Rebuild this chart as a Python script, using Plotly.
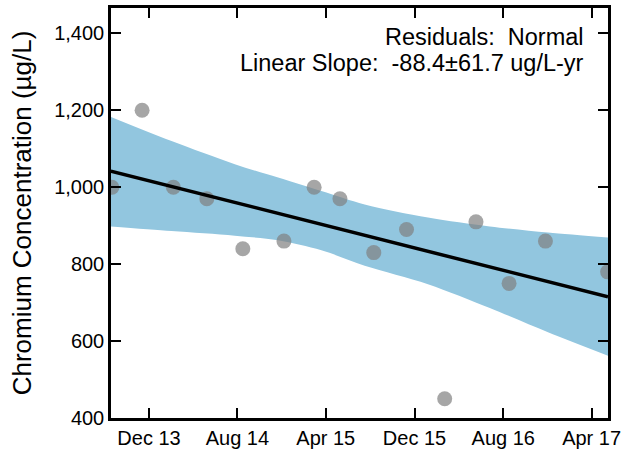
import plotly.graph_objects as go

# Observations
obs_dates = ["2013-08-21", "2013-11-12", "2014-02-06", "2014-05-09", "2014-08-16",
             "2014-12-07", "2015-02-28", "2015-05-10", "2015-08-11", "2015-11-09",
             "2016-02-22", "2016-05-18", "2016-08-17", "2016-11-25", "2017-05-15"]
obs_values = [1000, 1200, 1000, 970, 840, 860, 1000, 970, 830, 890, 450, 910, 750, 860, 780]

# Trend line (endpoints)
trend_dates = ["2013-08-18", "2017-05-16"]
trend_values = [1042, 715]

# Confidence band
band_dates = ["2013-08-18", "2014-02-01", "2014-07-25", "2014-11-21", "2015-03-20",
              "2015-07-17", "2016-01-07", "2016-06-25", "2016-12-02", "2017-05-16"]
band_upper = [1183, 1120, 1060, 1025, 990, 955, 921, 898, 882, 869]
band_lower = [898, 886, 874, 862, 836, 796, 748, 686, 623, 562]

tick_dates = ["2013-12-01", "2014-08-01", "2015-04-01", "2015-12-01", "2016-08-01", "2017-04-01"]
tick_labels = ["Dec 13", "Aug 14", "Apr 15", "Dec 15", "Aug 16", "Apr 17"]
y_ticks = [400, 600, 800, 1000, 1200, 1400]

FONT = "Liberation Sans, Arial, sans-serif"

fig = go.Figure()
fig.add_trace(go.Scatter(
    x=band_dates, y=band_lower, mode="lines",
    line=dict(width=0, shape="spline", smoothing=0.9), hoverinfo="skip", showlegend=False))
fig.add_trace(go.Scatter(
    x=band_dates, y=band_upper, mode="lines", fill="tonexty", fillcolor="#92c6df",
    line=dict(width=0, shape="spline", smoothing=0.9), hoverinfo="skip", showlegend=False))
fig.add_trace(go.Scatter(
    x=obs_dates, y=obs_values, mode="markers",
    marker=dict(size=15, color="rgba(128,128,128,0.7)", line=dict(width=0)),
    showlegend=False))
fig.add_trace(go.Scatter(
    x=trend_dates, y=trend_values, mode="lines",
    line=dict(color="black", width=3.5), showlegend=False))

fig.add_annotation(x=1, y=1, xref="paper", yref="paper", xanchor="right", yanchor="middle",
                   xshift=-22, yshift=-29, showarrow=False,
                   text="Residuals:\u00a0\u00a0Normal", font=dict(family=FONT, size=23.5, color="black"))
fig.add_annotation(x=1, y=1, xref="paper", yref="paper", xanchor="right", yanchor="middle",
                   xshift=-22, yshift=-55, showarrow=False,
                   text="Linear Slope:\u00a0\u00a0-88.4\u00b161.7 ug/L-yr",
                   font=dict(family=FONT, size=23.5, color="black"))

fig.update_layout(
    width=627, height=451,
    margin=dict(l=111, r=19, t=8, b=33),
    plot_bgcolor="white", paper_bgcolor="white",
    font=dict(family=FONT, size=20, color="black"),
    xaxis=dict(
        type="date", range=["2013-08-18 12:00", "2017-05-16"], automargin=False,
        tickmode="array", tickvals=tick_dates, ticktext=tick_labels,
        ticks="inside", ticklen=10, tickwidth=1.5, tickcolor="black",
        showline=True, linecolor="black", linewidth=2.5, mirror="allticks",
        showgrid=False, zeroline=False, tickfont=dict(size=20)),
    yaxis=dict(
        range=[400, 1466], tickmode="array", tickvals=y_ticks, tickformat=",d",
        automargin=False,
        ticks="inside", ticklen=10, tickwidth=1.5, tickcolor="black",
        showline=True, linecolor="black", linewidth=2.5, mirror="allticks",
        showgrid=False, zeroline=False, tickfont=dict(size=20),
        title=dict(text="Chromium Concentration (\u00b5g/L)", font=dict(size=26), standoff=16)),
)

fig.write_html("out.html", config={"displayModeBar": False},
               post_script="document.body.style.margin='0';")
